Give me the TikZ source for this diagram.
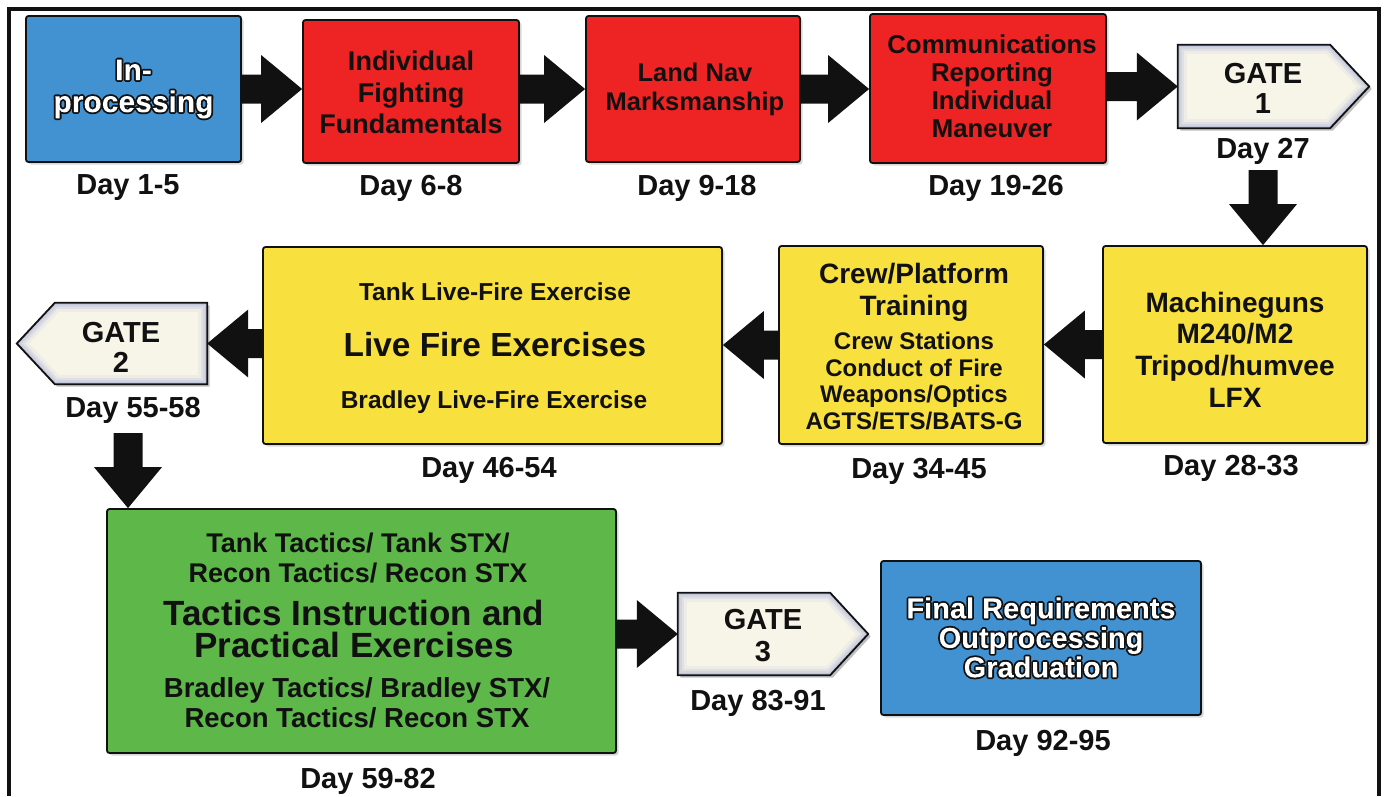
\documentclass[tikz,border=0pt]{standalone}
\usepackage{fontspec}
\setmainfont{Liberation Sans}
\usetikzlibrary{calc,shadows}

\definecolor{procblue}{RGB}{66,146,210}
\definecolor{stagered}{RGB}{237,35,36}
\definecolor{stageyellow}{RGB}{248,224,62}
\definecolor{stagegreen}{RGB}{93,183,73}
\definecolor{gatefill}{RGB}{247,245,232}
\definecolor{gateglow}{RGB}{150,158,215}
\definecolor{ink}{RGB}{17,17,17}

\newcommand\fs[2]{\fontsize{#1}{#2}\selectfont}
% white lettering with a dark outline: stroke the glyphs and clip to them,
% then paint white inside the glyph clip so only the outer half of the stroke stays
\newcommand\outl[1]{\special{pdf:bcontent}\special{pdf:literal direct 0.067 0.067 0.067 RG 3.6 w 1 j 5 Tr}#1\special{pdf:literal 0 Tr 1 g -3000 -3000 6000 6000 re f}\special{pdf:econtent}}

% block arrow from #1 to #2 (shaft 29, head 68 x 41)
\newcommand\blockarrow[2]{%
  \coordinate (ba-h) at ($(#2)!41pt!(#1)$);
  \fill[ink] ($(#1)!14.5pt!90:(#2)$) -- ($(ba-h)!14.5pt!90:(#2)$)
    -- ($(ba-h)!34pt!90:(#2)$) -- (#2) -- ($(ba-h)!34pt!-90:(#2)$)
    -- ($(ba-h)!14.5pt!-90:(#2)$) -- ($(#1)!14.5pt!-90:(#2)$) -- cycle;}

% gate pentagon with soft bluish inner rim
\newcommand\gatedraw[1]{%
  \fill[black, opacity=.25, transform canvas={xshift=2.5pt,yshift=-2.5pt}] #1;
  \fill[gatefill] #1;
  \begin{scope}
    \clip #1;
    \foreach \w/\o in {18/.10,12/.14,8/.18,4/.25} {\draw[line width=\w pt, gateglow, opacity=\o] #1;}
  \end{scope}
  \draw[ink, line width=1.8pt, line join=miter] #1;}

\tikzset{
  stagebox/.style={draw=ink, line width=1.8pt, inner sep=0pt, rounded corners=2.5pt,
    drop shadow={shadow xshift=2.5pt, shadow yshift=-2.5pt, opacity=.3}},
  gatecore/.style={inner sep=0pt},
  txt/.style={text=ink, align=center, inner sep=0pt},
  daylbl/.style={txt, font=\bfseries\fs{29}{30}},
}

\begin{document}
\begin{tikzpicture}[x=1pt,y=-1pt]
\useasboundingbox (0,0) rectangle (1384,796);
\fill[white] (0,0) rectangle (1384,796);
\draw[line width=3.5pt, ink] (9,796) -- (9,9) -- (1379,9) -- (1379,796);

% ---- boxes ----
\node[stagebox, fill=procblue, minimum width=215pt, minimum height=146pt] (b1) at (133.5,89) {};
\node[stagebox, fill=stagered, minimum width=216pt, minimum height=143pt] (b2) at (411,91.5) {};
\node[stagebox, fill=stagered, minimum width=214pt, minimum height=146pt] (b3) at (693,89) {};
\node[stagebox, fill=stagered, minimum width=236pt, minimum height=149pt] (b4) at (988,88.5) {};
\node[gatecore, minimum width=152pt, minimum height=83pt] (g1) at (1254,86.5) {};

\node[stagebox, fill=stageyellow, minimum width=264pt, minimum height=197pt] (b5) at (1235,344.5) {};
\node[stagebox, fill=stageyellow, minimum width=264pt, minimum height=198pt] (b6) at (911,345) {};
\node[stagebox, fill=stageyellow, minimum width=459pt, minimum height=197pt] (b7) at (492.5,345.5) {};
\node[gatecore, minimum width=152pt, minimum height=81pt] (g2) at (131,343.5) {};

\node[stagebox, fill=stagegreen, minimum width=509pt, minimum height=244pt] (b8) at (361.5,631) {};
\node[gatecore, minimum width=152pt, minimum height=82pt] (g3) at (754,634) {};
\node[stagebox, fill=procblue, minimum width=320pt, minimum height=154pt] (b9) at (1041,638) {};

% ---- gates ----
\gatedraw{(g1.north west) -- (g1.north east) -- ([xshift=39pt]g1.east) -- (g1.south east) -- (g1.south west) -- cycle}
\gatedraw{(g2.north west) -- (g2.north east) -- (g2.south east) -- (g2.south west) -- ([xshift=-38pt]g2.west) -- cycle}
\gatedraw{(g3.north west) -- (g3.north east) -- ([xshift=38pt]g3.east) -- (g3.south east) -- (g3.south west) -- cycle}

% ---- texts ----
\node[txt, text=white, font=\bfseries\fs{30}{32}] (t1) at (133.5,89) {\outl{In-}\\\outl{processing}};
\node[txt, font=\bfseries\fs{27}{31.5}] (t2) at (411,92.5) {Individual\\Fighting\\Fundamentals};
\node[txt, font=\bfseries\fs{25.5}{29}] (t3) at (695,89) {Land Nav\\Marksmanship};
\node[txt, font=\bfseries\fs{25.8}{28}] (t4) at (992,86) {Communications\\Reporting\\Individual\\Maneuver};
\node[txt, font=\bfseries\fs{29}{30}] (gt1) at (1263,88) {GATE\\1};

\node[txt, font=\bfseries\fs{28}{31.7}] (t5) at (1235,349.5) {Machineguns\\M240/M2\\Tripod/humvee\\LFX};
\node[txt, font=\bfseries\fs{28}{32}] (t6a) at (914,292) {Crew/Platform\\Training};
\node[txt, font=\bfseries\fs{24}{26.7}] (t6b) at (914,381) {Crew Stations\\Conduct of Fire\\Weapons/Optics\\AGTS/ETS/BATS-G};
\node[txt, font=\bfseries\fs{24.5}{26}] (t7a) at (495,292) {Tank Live-Fire Exercise};
\node[txt, font=\bfseries\fs{33.4}{35}] (t7b) at (495,345) {Live Fire Exercises};
\node[txt, font=\bfseries\fs{24.5}{26}] (t7c) at (494,402.5) {Bradley Live-Fire Exercise};
\node[txt, font=\bfseries\fs{29}{30}] (gt2) at (121,347) {GATE\\2};

\node[txt, font=\bfseries\fs{27}{30}] (t8a) at (358,557.5) {Tank Tactics/ Tank STX/\\Recon Tactics/ Recon STX};
\node[txt, font=\bfseries\fs{35}{32}] (t8b) at (354,628.5) {Tactics Instruction and\\Practical Exercises};
\node[txt, font=\bfseries\fs{27.5}{30}] (t8c) at (357,703) {Bradley Tactics/ Bradley STX/\\Recon Tactics/ Recon STX};
\node[txt, font=\bfseries\fs{29}{32}] (gt3) at (763,636) {GATE\\3};
\node[txt, text=white, font=\bfseries\fs{29}{29.5}] (t9) at (1041,637.5) {\outl{Final Requirements}\\\outl{Outprocessing}\\\outl{Graduation}};

% ---- day labels ----
\node[daylbl] (d1) at (128,188) {Day 1-5};
\node[daylbl] (d2) at (411,188) {Day 6-8};
\node[daylbl] (d3) at (697,188) {Day 9-18};
\node[daylbl] (d4) at (996,188) {Day 19-26};
\node[daylbl] (d5) at (1263,151) {Day 27};
\node[daylbl] (d6) at (1231,468) {Day 28-33};
\node[daylbl] (d7) at (919,471) {Day 34-45};
\node[daylbl] (d8) at (489,470) {Day 46-54};
\node[daylbl] (d9) at (133,410) {Day 55-58};
\node[daylbl] (d10) at (368,781) {Day 59-82};
\node[daylbl] (d11) at (758,703) {Day 83-91};
\node[daylbl] (d12) at (1043,743) {Day 92-95};

% ---- connectors ----
\coordinate (a1s) at (b1.east);  \coordinate (a1e) at (b1.east -| b2.west);
\coordinate (a2s) at (b2.east |- b1.east);  \coordinate (a2e) at (b1.east -| b3.west);
\coordinate (a3s) at (b3.east);  \coordinate (a3e) at (b3.east -| b4.west);
\coordinate (a4s) at (b4.east |- g1.west);  \coordinate (a4e) at (g1.west);
\coordinate (a5s) at (1263,170);  \coordinate (a5e) at (a5s |- b5.north);
\coordinate (a6s) at (b5.west);  \coordinate (a6e) at (b5.west -| b6.east);
\coordinate (a7s) at (b6.west);  \coordinate (a7e) at (b6.west -| b7.east);
\coordinate (a8s) at (b7.west |- g2.east);  \coordinate (a8e) at (g2.east);
\coordinate (a9s) at (128,433);  \coordinate (a9e) at (a9s |- b8.north);
\coordinate (a10s) at (b8.east |- g3.west);  \coordinate (a10e) at (g3.west);

\blockarrow{a1s}{a1e}
\blockarrow{a2s}{a2e}
\blockarrow{a3s}{a3e}
\blockarrow{a4s}{a4e}
\blockarrow{a5s}{a5e}
\blockarrow{a6s}{a6e}
\blockarrow{a7s}{a7e}
\blockarrow{a8s}{a8e}
\blockarrow{a9s}{a9e}
\blockarrow{a10s}{a10e}
\end{tikzpicture}
\end{document}
